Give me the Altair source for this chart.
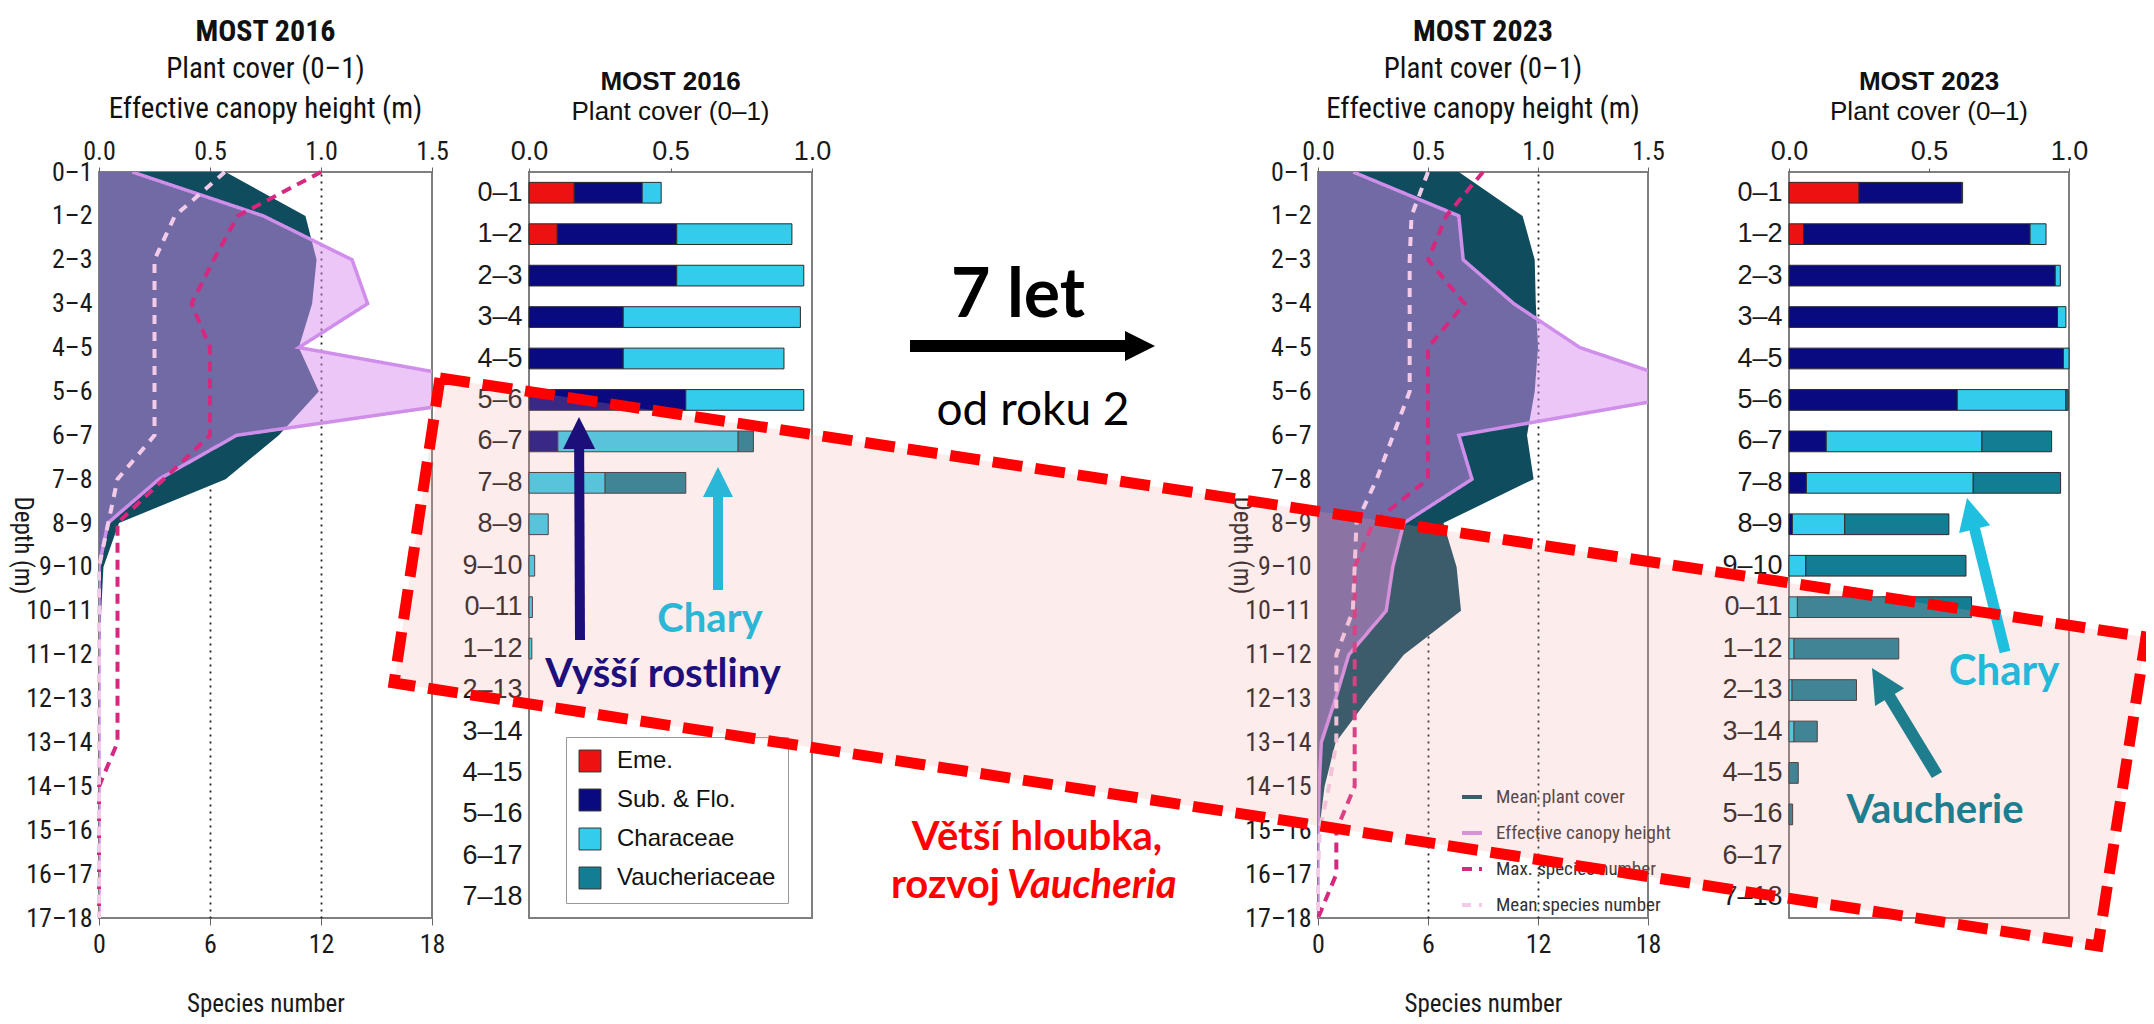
import json
import math
import altair as alt
import pandas as pd

# ---------------- data ----------------
DEPTHS = ["0–1", "1–2", "2–3", "3–4", "4–5", "5–6", "6–7", "7–8", "8–9", "9–10",
          "10–11", "11–12", "12–13", "13–14", "14–15", "15–16", "16–17", "17–18"]
BAR_LABELS = ["0–1", "1–2", "2–3", "3–4", "4–5", "5–6", "6–7", "7–8", "8–9", "9–10",
              "0–11", "1–12", "2–13", "3–14", "4–15", "5–16", "6–17", "7–18"]

COVER_2016 = [0.57, 0.93, 0.98, 0.96, 0.90, 0.99, 0.81, 0.57, 0.09, 0.02, 0.01, 0.005, 0, 0, 0, 0, 0, 0]
CANOPY_2016 = [0.15, 0.74, 1.14, 1.21, 0.90, 2.0, 0.62, 0.27, 0.04, 0, 0, 0, 0, 0, 0, 0, 0, 0]
MAXSP_2016 = [12, 7.5, 6.2, 5, 6, 6, 6, 3.5, 1, 1, 1, 1, 1, 1, 0, 0, 0, 0]
MEANSP_2016 = [6.8, 4.1, 3, 3, 3, 3, 3, 1, 0.5, 0, 0, 0, 0, 0, 0, 0, 0, 0]

COVER_2023 = [0.64, 0.93, 0.985, 0.99, 1.0, 0.985, 0.95, 0.98, 0.57, 0.63, 0.65, 0.39, 0.23, 0.08, 0.03, 0.005, 0, 0]
CANOPY_2023 = [0.16, 0.64, 0.66, 0.89, 1.19, 1.78, 0.64, 0.70, 0.39, 0.34, 0.31, 0.14, 0.08, 0.015, 0.005, 0, 0, 0]
MAXSP_2023 = [9, 7, 6, 8, 6, 6, 6, 6, 3, 2, 2, 2, 2, 2, 2, 1, 1, 0]
MEANSP_2023 = [6, 5.1, 5, 5, 5, 5, 4.1, 3.2, 2.1, 2, 1.9, 1, 1, 1, 0.6, 0.1, 0, 0]

GROUPS = ["Eme.", "Sub. & Flo.", "Characeae", "Vaucheriaceae"]
EME_2016 = [0.16, 0.10] + [0] * 16
SUB_2016 = [0.24, 0.422, 0.522, 0.333, 0.333, 0.554, 0.102] + [0] * 11
CHAR_2016 = [0.067, 0.407, 0.449, 0.626, 0.568, 0.417, 0.637, 0.269, 0.068, 0.02, 0.012, 0.01] + [0] * 6
VAUCH_2016 = [0, 0, 0, 0, 0, 0, 0.054, 0.285] + [0] * 10

EME_2023 = [0.25, 0.052] + [0] * 16
SUB_2023 = [0.366, 0.809, 0.951, 0.959, 0.98, 0.601, 0.133, 0.062, 0.012] + [0] * 9
CHAR_2023 = [0.004, 0.057, 0.018, 0.03, 0.02, 0.388, 0.556, 0.596, 0.187, 0.06, 0.03, 0.018, 0.011, 0.018, 0, 0, 0, 0]
VAUCH_2023 = [0, 0, 0, 0, 0, 0.008, 0.249, 0.312, 0.372, 0.572, 0.622, 0.374, 0.23, 0.083, 0.033, 0.013, 0, 0]

SERIES = ["Mean plant cover", "Effective canopy height", "Max. species number", "Mean species number"]

# ---------------- style ----------------
NARROW = "Roboto Condensed, Liberation Sans Narrow, Arial Narrow, Liberation Sans, sans-serif"
SANS = "Liberation Sans, Arial, sans-serif"
CAL = "Lato, Carlito, Calibri, sans-serif"

TEAL = "#0e4c5e"
CANOPY_FILL = "#d88bef"
SERIES_COLORS = ["#0e4c5e", "#cf8ee9", "#d6287f", "#f3cbe8"]
SERIES_DASH = [[1, 0], [1, 0], [10, 7], [9, 8]]
GROUP_COLORS = ["#ee1111", "#0a0a80", "#33ccec", "#137d94"]

PROF_W_A, PROF_W_C = 333, 330
BAR_W_B, BAR_W_D = 283, 280
H = 746
GAP_AB, GAP_BC, GAP_CD = 97, 506, 141
LEFT, TOP = 99, 172          # absolute page position of first plot area
M_ORIGIN = (LEFT + PROF_W_A + GAP_AB + BAR_W_B, TOP)
D_ORIGIN = (LEFT + PROF_W_A + GAP_AB + BAR_W_B + GAP_BC + PROF_W_C + GAP_CD, TOP)


def profile(title, cover, canopy, maxsp, meansp, width, legend):
    df = pd.DataFrame({"idx": list(range(len(DEPTHS))), "cover": cover, "canopy": canopy,
                       "maxsp": maxsp, "meansp": meansp})
    label_expr = json.dumps(DEPTHS, ensure_ascii=False) + "[datum.value]"
    yax = alt.Axis(values=list(range(18)), labelExpr=label_expr, labelFont=NARROW, labelFontSize=26,
                   labelColor="#1a1a1a", labelPadding=7, ticks=False, domain=False, grid=False,
                   labelOverlap=False, labelFlush=False,
                   title="Depth (m)", titleFont=NARROW, titleFontSize=25, titleFontWeight="normal",
                   titleColor="#1a1a1a", titleAngle=90, titleX=-77, titleY=H / 2,
                   titleBaseline="middle", titleAlign="center")
    y = alt.Y("idx:Q", scale=alt.Scale(domain=[0, 17], reverse=True, nice=False, zero=False), axis=yax)
    top_scale = alt.Scale(domain=[0, 1.5], nice=False, zero=True)
    top_axis = alt.Axis(orient="top", values=[0, 0.5, 1, 1.5], format=".1f", labelFont=NARROW,
                        labelFontSize=26, labelColor="#1a1a1a", labelPadding=3, tickSize=5,
                        tickColor="#666", domain=False, grid=False, title=None,
                        labelFlush=False, labelOverlap=False)
    bottom_axis = alt.Axis(orient="bottom", values=[0, 6, 12, 18], labelFont=NARROW, labelFontSize=26,
                           labelColor="#1a1a1a", labelPadding=6, tickSize=7, tickColor="#666",
                           domain=False, grid=True, gridColor="#222", gridWidth=1.8, gridDash=[2, 5],
                           gridOpacity={"condition": {"test": "datum.value == 6 || datum.value == 12",
                                                      "value": 1}, "value": 0},
                           labelFlush=False, labelOverlap=False,
                           title="Species number", titleFont=NARROW, titleFontSize=25,
                           titleFontWeight="normal", titleColor="#1a1a1a", titlePadding=34)
    color = alt.Color("series:N", scale=alt.Scale(domain=SERIES, range=SERIES_COLORS), legend=legend)
    dash = alt.StrokeDash("series:N", scale=alt.Scale(domain=SERIES, range=SERIES_DASH), legend=legend)
    base = alt.Chart(df)
    cover_area = base.mark_area(orient="horizontal", color=TEAL).encode(
        x=alt.X("cover:Q", stack=None, scale=top_scale, axis=top_axis), y=y)
    canopy_area = base.mark_area(orient="horizontal", color=CANOPY_FILL, opacity=0.49, clip=True).encode(
        x=alt.X("canopy:Q", stack=None, scale=top_scale, axis=top_axis), y=y)
    canopy_line = base.transform_calculate(series="'Effective canopy height'").mark_line(
        clip=True, strokeWidth=3.5).encode(
        x=alt.X("canopy:Q", stack=None, scale=top_scale, axis=top_axis), y=y,
        order=alt.Order("idx:Q"), color=color, strokeDash=dash)
    species = base.transform_fold(["maxsp", "meansp"], as_=["key", "spval"]).transform_calculate(
        series="datum.key == 'maxsp' ? 'Max. species number' : 'Mean species number'").mark_line(
        strokeWidth=4).encode(
        x=alt.X("spval:Q", stack=None, scale=alt.Scale(domain=[0, 18], nice=False), axis=bottom_axis),
        y=y, order=alt.Order("idx:Q"), color=color, strokeDash=dash)
    top = alt.layer(cover_area, canopy_area, canopy_line)
    return alt.layer(top, species).resolve_scale(x="independent").properties(
        width=width, height=H,
        title=alt.TitleParams(text=title, subtitle=["Plant cover (0–1)", "Effective canopy height (m)"],
                              font=NARROW, fontSize=30, fontWeight="bold", color="#111",
                              subtitleFont=NARROW, subtitleFontSize=29, subtitleColor="#111",
                              subtitleLineHeight=40, subtitlePadding=8, offset=14, anchor="middle"))


def bars(title, series_values, width, legend):
    rows = []
    for i, lab in enumerate(BAR_LABELS):
        for g, name in enumerate(GROUPS):
            rows.append({"depth": lab, "group": name, "ord": g, "value": series_values[g][i]})
    df = pd.DataFrame(rows)
    xax = alt.Axis(orient="top", values=[0, 0.5, 1], format=".1f", labelFont=SANS, labelFontSize=27,
                   labelColor="#1a1a1a", labelPadding=3, tickSize=4, tickColor="#666", domain=False,
                   grid=False, title=None, labelFlush=False, labelOverlap=False)
    yax = alt.Axis(title=None, labelFont=SANS, labelFontSize=27, labelColor="#1a1a1a", labelPadding=7,
                   ticks=False, domain=False, labelOverlap=False)
    return alt.Chart(df).transform_filter("datum.value > 0").mark_bar(
        stroke="#2b2b2b", strokeWidth=1).encode(
        x=alt.X("value:Q", stack="zero", scale=alt.Scale(domain=[0, 1], nice=False), axis=xax),
        y=alt.Y("depth:N", sort=BAR_LABELS,
                scale=alt.Scale(domain=BAR_LABELS, paddingInner=0.5, paddingOuter=0.25), axis=yax),
        color=alt.Color("group:N", scale=alt.Scale(domain=GROUPS, range=GROUP_COLORS), legend=legend),
        order=alt.Order("ord:Q", sort="ascending"),
    ).properties(width=width, height=H,
                 title=alt.TitleParams(text=title, subtitle="Plant cover (0–1)", font=SANS, fontSize=26,
                                       fontWeight="bold", color="#111", subtitleFont=SANS,
                                       subtitleFontSize=26, subtitleColor="#111", subtitlePadding=4,
                                       offset=12, anchor="middle"))


def spacer(w):
    return alt.Chart(pd.DataFrame({"v": [0]})).mark_point(opacity=0).encode(
        x=alt.X("v:Q", axis=None), y=alt.Y("v:Q", axis=None)).properties(
        width=w, height=H, view=alt.ViewBackground(strokeOpacity=0))


# ---------------- annotations (absolute page pixels) ----------------
BOX = [(440, 378), (2146, 637), (2098, 946), (394, 683)]  # TL, TR, BR, BL
ARROWS_D = [
    ((580, 640), (579, 417), "#1c0f7a", 10, 32),
    ((718, 590), (718, 467), "#2ab7d7", 10, 30),
    ((2005, 652), (1967, 498), "#1fbfe0", 11, 32),
    ((1937, 775), (1872, 668), "#1f7e8d", 12, 34),
]
ARROWS_M = [((910, 346), (1155, 346), "#000000", 12, 30)]
TEXTS_D = [
    ("Chary", 710, 632, "#2cb6d6", 40),
    ("Vyšší rostliny", 663, 687, "#1d0f7c", 40),
    ("Větší hloubka,", 1037, 850, "#ff0000", 40),
    ("Chary", 2004, 685, "#22b8da", 42),
    ("Vaucherie", 1935, 823, "#1f7e8d", 40),
]
TEXT_ROZVOJ = ("rozvoj ", 891, 898)
TEXT_VAUCH = ("Vaucheria", 1007, 898)
TEXTS_M = [("7 let", 1018, 317, "#000000", 68, "bold"), ("od roku 2", 1033, 425, "#000000", 46, "normal")]


def arrow_frames(arrows, origin):
    ox, oy = origin
    shafts, heads = [], []
    for tail, tip, col, sw, hd in arrows:
        dx, dy = tip[0] - tail[0], tip[1] - tail[1]
        ln = math.hypot(dx, dy)
        ux, uy = dx / ln, dy / ln
        bx, by = tip[0] - ux * hd * 0.85, tip[1] - uy * hd * 0.85
        cx, cy = tip[0] - ux * hd / 2, tip[1] - uy * hd / 2
        ang = math.degrees(math.atan2(ux, -uy)) % 360
        shafts.append({"x": tail[0] - ox, "y": tail[1] - oy, "x2": bx - ox, "y2": by - oy, "col": col, "sw": sw})
        heads.append({"x": cx - ox, "y": cy - oy, "col": col, "ang": ang, "sz": hd * hd})
    return pd.DataFrame(shafts), pd.DataFrame(heads)


def px(field):
    return alt.X(field, scale=None, axis=None)


def py(field):
    return alt.Y(field, scale=None, axis=None, stack=None)


def arrow_layers(arrows, origin):
    sdf, hdf = arrow_frames(arrows, origin)
    shafts = alt.Chart(sdf).mark_rule(strokeCap="butt").encode(
        x=px("x:Q"), y=py("y:Q"), x2="x2:Q", y2="y2:Q",
        color=alt.Color("col:N", scale=None), strokeWidth=alt.StrokeWidth("sw:Q", scale=None))
    heads = alt.Chart(hdf).mark_point(filled=True, opacity=1, shape="M0,-1L1,1L-1,1Z", strokeWidth=0).encode(
        x=px("x:Q"), y=py("y:Q"), color=alt.Color("col:N", scale=None),
        angle=alt.Angle("ang:Q", scale=None), size=alt.Size("sz:Q", scale=None))
    return [shafts, heads]


# box fill as an area between the upper and lower edges
def box_frames(origin):
    ox, oy = origin
    tl, tr, br, bl = BOX
    def on(p, q, x):
        return p[1] + (x - p[0]) * (q[1] - p[1]) / (q[0] - p[0])
    xs = [bl[0], tl[0], br[0], tr[0]]
    rows = []
    for x in xs:
        top = on(bl, tl, x) if x <= tl[0] else on(tl, tr, x)
        bot = on(bl, br, x) if x <= br[0] else on(br, tr, x)
        rows.append({"x": x - ox, "y": top - oy, "y2": bot - oy})
    fill = pd.DataFrame(rows)
    pts = [tl, tr, br, bl, tl]
    border = pd.DataFrame({"i": list(range(len(pts))), "x": [p[0] - ox for p in pts], "y": [p[1] - oy for p in pts]})
    return fill, border


fill_df, border_df = box_frames(D_ORIGIN)
box_fill = alt.Chart(fill_df).mark_area(orient="vertical", color="#f5a0a0", opacity=0.2).encode(
    x=px("x:Q"), y=py("y:Q"), y2="y2:Q")
box_border = alt.Chart(border_df).mark_line(color="#ff0000", strokeWidth=11, strokeDash=[30, 13],
                                            strokeCap="butt", strokeJoin="miter").encode(
    x=px("x:Q"), y=py("y:Q"), order=alt.Order("i:Q"))

ox, oy = D_ORIGIN
tdf = pd.DataFrame([{"t": t, "x": x - ox, "y": y - oy, "col": c, "fs": fs} for t, x, y, c, fs in TEXTS_D])
texts_d = alt.Chart(tdf).mark_text(font=CAL, fontWeight="bold", align="center", baseline="alphabetic").encode(
    x=px("x:Q"), y=py("y:Q"), text="t:N", color=alt.Color("col:N", scale=None),
    size=alt.Size("fs:Q", scale=None))
rz = pd.DataFrame([{"t": TEXT_ROZVOJ[0], "x": TEXT_ROZVOJ[1] - ox, "y": TEXT_ROZVOJ[2] - oy}])
vz = pd.DataFrame([{"t": TEXT_VAUCH[0], "x": TEXT_VAUCH[1] - ox, "y": TEXT_VAUCH[2] - oy}])
text_rozvoj = alt.Chart(rz).mark_text(font=CAL, fontWeight="bold", fontSize=40, color="#ff0000",
                                      align="left", baseline="alphabetic").encode(
    x=px("x:Q"), y=py("y:Q"), text="t:N")
text_vauch = alt.Chart(vz).mark_text(font=CAL, fontWeight="bold", fontStyle="italic", fontSize=40,
                                     color="#ff0000", align="left", baseline="alphabetic").encode(
    x=px("x:Q"), y=py("y:Q"), text="t:N")

# ---------------- panels ----------------
panel_a = profile("MOST 2016", COVER_2016, CANOPY_2016, MAXSP_2016, MEANSP_2016, PROF_W_A, None)
legend_c = alt.Legend(orient="none", legendX=142, legendY=613, title=None, symbolType="stroke",
                      symbolSize=400, symbolStrokeWidth=4, labelFont=NARROW, labelFontSize=19,
                      labelColor="#333", labelLimit=400, rowPadding=14, padding=0, labelOffset=12,
                      direction="vertical")
panel_c = profile("MOST 2023", COVER_2023, CANOPY_2023, MAXSP_2023, MEANSP_2023, PROF_W_C, legend_c)

legend_b = alt.Legend(orient="none", legendX=37, legendY=565, title=None, symbolType="square",
                      symbolSize=480, symbolStrokeColor="#333", symbolStrokeWidth=1, labelFont=SANS,
                      labelFontSize=24, labelColor="#111", labelLimit=400, rowPadding=13, padding=12,
                      labelOffset=15, fillColor="white", strokeColor="#999", direction="vertical")
panel_b = bars("MOST 2016", [EME_2016, SUB_2016, CHAR_2016, VAUCH_2016], BAR_W_B, legend_b)
bars_d = bars("MOST 2023", [EME_2023, SUB_2023, CHAR_2023, VAUCH_2023], BAR_W_D, None)

mx, my = M_ORIGIN
mdf = pd.DataFrame([{"t": t, "x": x - mx, "y": y - my, "col": c, "fs": fs, "fw": fw} for t, x, y, c, fs, fw in TEXTS_M])
m_bold = alt.Chart(mdf[mdf.fw == "bold"]).mark_text(font=CAL, fontWeight="bold", align="center",
                                                    baseline="alphabetic").encode(
    x=px("x:Q"), y=py("y:Q"), text="t:N", color=alt.Color("col:N", scale=None), size=alt.Size("fs:Q", scale=None))
m_norm = alt.Chart(mdf[mdf.fw == "normal"]).mark_text(font=CAL, fontWeight="normal", align="center",
                                                      baseline="alphabetic").encode(
    x=px("x:Q"), y=py("y:Q"), text="t:N", color=alt.Color("col:N", scale=None), size=alt.Size("fs:Q", scale=None))
panel_m = alt.layer(*arrow_layers(ARROWS_M, M_ORIGIN), m_bold, m_norm).properties(
    width=GAP_BC, height=H, view=alt.ViewBackground(strokeOpacity=0))

panel_d = alt.layer(bars_d, box_fill, *arrow_layers(ARROWS_D, D_ORIGIN), texts_d, text_rozvoj, text_vauch,
                    box_border).resolve_scale(x="independent", y="independent", color="independent",
                                              size="independent")

chart = alt.hconcat(panel_a, spacer(GAP_AB), panel_b, panel_m, panel_c, spacer(GAP_CD), panel_d,
                    spacing=0, bounds="flush").resolve_scale(
    color="independent", strokeDash="independent").resolve_legend(
    color="independent", strokeDash="independent").properties(
    autosize=alt.AutoSizeParams(type="none"),
    padding={"left": LEFT - 8, "top": TOP - 8, "right": 2138 - (LEFT - 8), "bottom": 1000 - (TOP - 8)},
).configure_view(stroke="#7f7f7f", strokeWidth=2)

chart.save("out.html", embed_options={"renderer": "svg", "actions": False})
